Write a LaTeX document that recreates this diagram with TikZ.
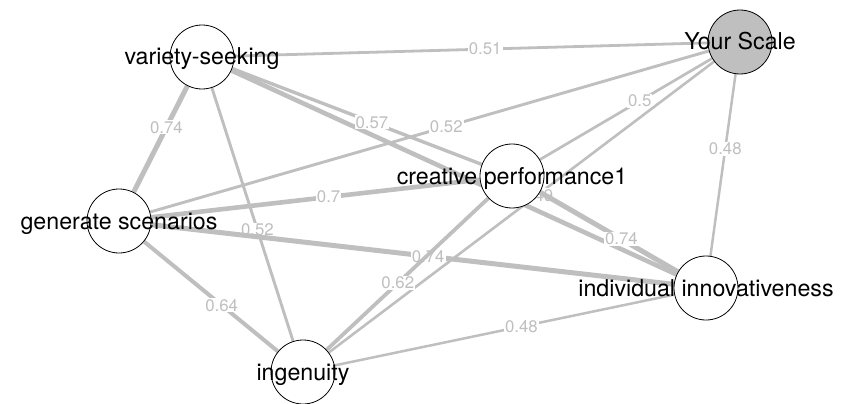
\documentclass[tikz,border=0pt]{standalone}
\usepackage{fontspec}
\setmainfont{TeX Gyre Heros}
\usetikzlibrary{backgrounds}

\definecolor{edgegray}{RGB}{191,191,191}

\begin{document}
\begin{tikzpicture}[
    x=1pt, y=-1pt,
    factor/.style={circle, draw=black, line width=0.8pt, minimum size=64pt, inner sep=0pt},
    factortext/.style={anchor=base, text=black, font=\fontsize{23.2}{28}\selectfont},
    corr/.style={draw=edgegray, line width=#1pt},
    corrlabel/.style={fill=white, inner sep=1pt, text=edgegray, font=\fontsize{16.8}{19}\selectfont},
    ]

    \useasboundingbox (0,0) rectangle (841,404);

    % ==========================================
    % Factors
    % ==========================================
    \foreach \name/\x/\y/\fillc/\txt in {
        variety/202/57/white/variety-seeking,
        scale/740/42/edgegray/Your Scale,
        creative/512/176/white/creative performance1,
        scenarios/119/221/white/generate scenarios,
        innov/706/288/white/individual innovativeness,
        ingenuity/303/372/white/ingenuity}
    {
        \node[factor, fill=\fillc] (\name) at (\x,\y) {};
        \node[factortext] (\name-text) at ([yshift=-8pt]\name.center) {\txt};
    }

    % ==========================================
    % Correlations (behind the factors)
    % ==========================================
    \begin{pgfonlayer}{background}
        \draw[corr=4.6] (variety) -- (innov);
        \foreach \a/\b/\w/\p/\v in {
            variety/scale/2.8/0.53/0.51,
            scenarios/variety/5.0/0.61/0.74,
            variety/creative/3.4/0.56/0.57,
            variety/ingenuity/2.9/0.56/0.52,
            scenarios/scale/2.9/0.53/0.52,
            scenarios/creative/4.6/0.54/0.7,
            scenarios/innov/5.0/0.53/0.74,
            scenarios/ingenuity/4.0/0.58/0.64,
            creative/scale/2.7/0.58/0.5,
            scale/ingenuity/2.6/0.46/0.49,
            scale/innov/2.5/0.41/0.48,
            creative/innov/5.0/0.59/0.74,
            ingenuity/creative/3.8/0.44/0.62,
            ingenuity/innov/2.5/0.55/0.48}
        {
            \draw[corr=\w] (\a) -- node[corrlabel, pos=\p] {\v} (\b);
        }
    \end{pgfonlayer}

\end{tikzpicture}
\end{document}
